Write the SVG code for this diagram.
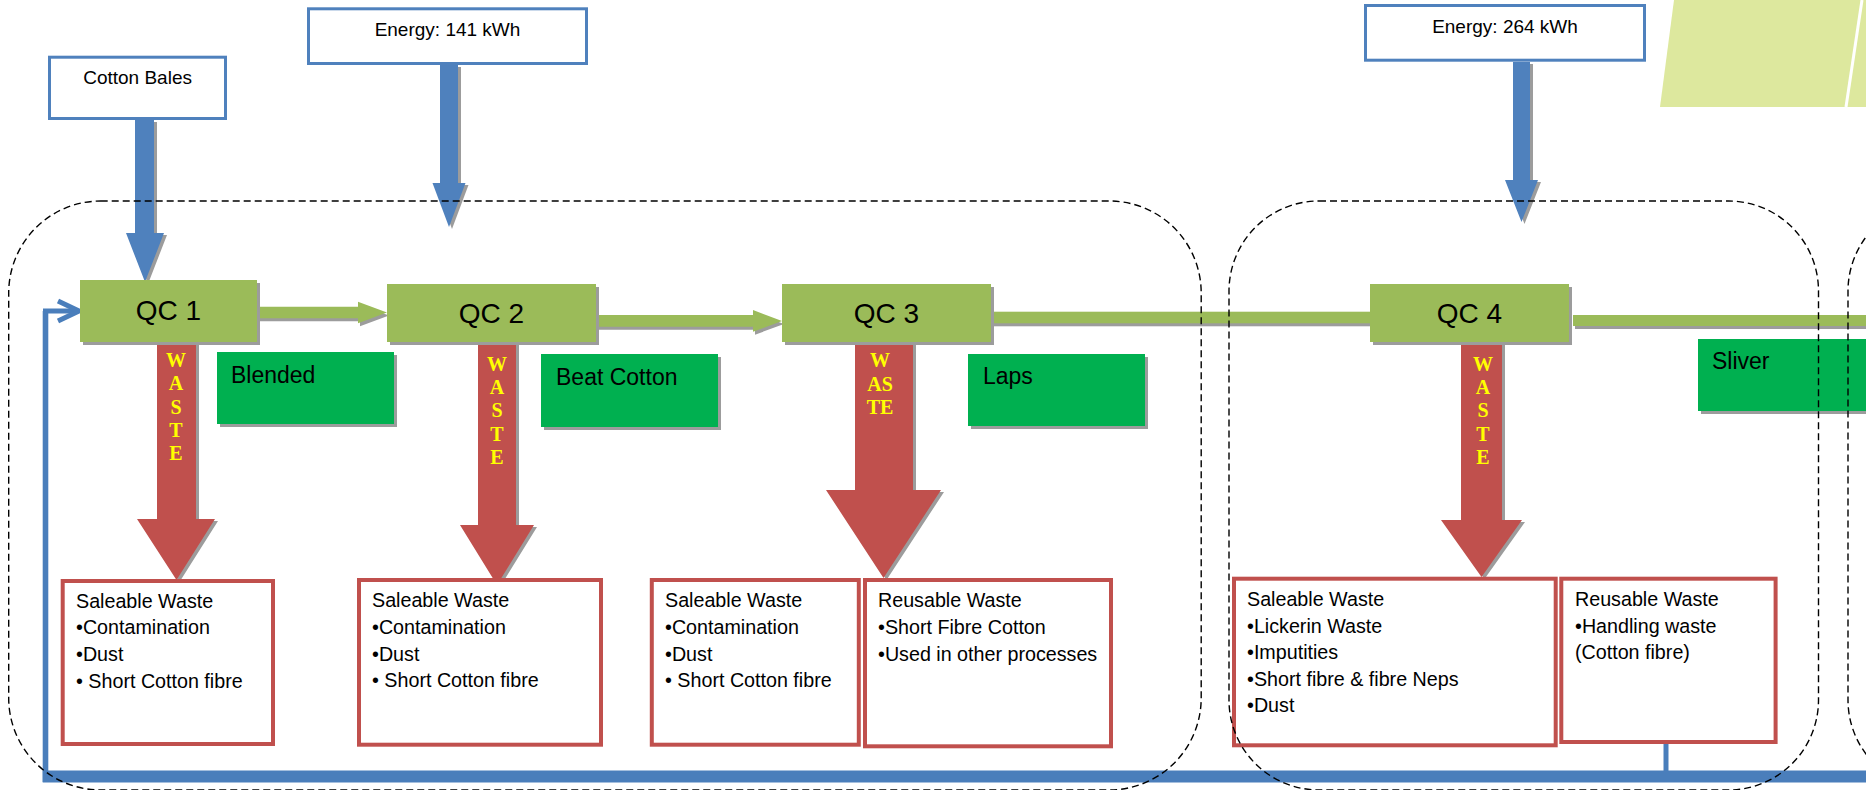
<svg xmlns="http://www.w3.org/2000/svg" width="1866" height="790" viewBox="0 0 1866 790">
<style>
.t{font-family:"Liberation Sans",Arial,sans-serif;fill:#000}
.qc{fill:#9BBB59}
.sh{fill:#9C9C9C}
.prod{fill:#00B050}
.wbox{fill:#fff;stroke:#C0504D;stroke-width:4}
.ibox{fill:#fff;stroke:#4F81BD;stroke-width:3}
.red{fill:#C0504D}
.blue{fill:#4F81BD}
.w{font-family:"Liberation Serif","Times New Roman",serif;font-weight:bold;font-size:20px;fill:#FFFF00;text-anchor:middle}
.dash{fill:none;stroke:#000;stroke-width:1.4;stroke-dasharray:7 4}
.loop{fill:none;stroke:#4A7EBB}
.li{font-size:19.7px}
</style>
<rect width="1866" height="790" fill="#fff"/>
<g id="decor">
<polygon points="1674,0 1866,0 1866,107 1660,107" fill="#DDE89E"/>
<line x1="1862" y1="0" x2="1846" y2="107" stroke="#fff" stroke-width="3"/>
</g>
<g id="connectors">
<polygon class="sh" transform="translate(3,2)" points="135,120 154,120 154,233 164,233 145,282 126,233 135,233"/>
<polygon class="blue" points="135,120 154,120 154,233 164,233 145,282 126,233 135,233"/>
<polygon class="sh" transform="translate(3,2)" points="440,65 458,65 458,183 465.5,183 449,227 432.5,183 440,183"/>
<polygon class="blue" points="440,65 458,65 458,183 465.5,183 449,227 432.5,183 440,183"/>
<polygon class="sh" transform="translate(3,2)" points="1513,62 1530,62 1530,180 1538,180 1521.5,222 1505,180 1513,180"/>
<polygon class="blue" points="1513,62 1530,62 1530,180 1538,180 1521.5,222 1505,180 1513,180"/>
<polygon class="sh" transform="translate(2,3)" points="257,306.7 358,306.7 358,301.7 387,312.5 358,323.3 358,318.3 257,318.3"/>
<polygon class="qc" points="257,306.7 358,306.7 358,301.7 387,312.5 358,323.3 358,318.3 257,318.3"/>
<polygon class="sh" transform="translate(2,3)" points="596,315 753,315 753,310 782,321 753,331.7 753,326.7 596,326.7"/>
<polygon class="qc" points="596,315 753,315 753,310 782,321 753,331.7 753,326.7 596,326.7"/>
<rect class="sh" x="993" y="314.7" width="377" height="11.6"/>
<rect class="qc" x="991" y="311.7" width="379" height="11.6"/>
<rect class="sh" x="1575" y="318" width="291" height="11"/>
<rect class="qc" x="1573" y="315" width="293" height="11"/>
<polygon class="sh" transform="translate(3,2)" points="157,342 196,342 196,519 215,519 176.5,580 137,519 157,519"/>
<polygon class="red" points="157,342 196,342 196,519 215,519 176.5,580 137,519 157,519"/>
<polygon class="sh" transform="translate(3,2)" points="478,342 516,342 516,525 534,525 497,585 460,525 478,525"/>
<polygon class="red" points="478,342 516,342 516,525 534,525 497,585 460,525 478,525"/>
<polygon class="sh" transform="translate(3,2)" points="855,342 913,342 913,490 941,490 883.5,578 826,490 855,490"/>
<polygon class="red" points="855,342 913,342 913,490 941,490 883.5,578 826,490 855,490"/>
<polygon class="sh" transform="translate(3,2)" points="1461,342 1502,342 1502,520 1522,520 1481.5,577 1441,520 1461,520"/>
<polygon class="red" points="1461,342 1502,342 1502,520 1522,520 1481.5,577 1441,520 1461,520"/>
<text class="w"><tspan x="176" y="367">W</tspan><tspan x="176" y="390.3">A</tspan><tspan x="176" y="413.7">S</tspan><tspan x="176" y="437">T</tspan><tspan x="176" y="460.3">E</tspan></text>
<text class="w"><tspan x="497" y="370.7">W</tspan><tspan x="497" y="394">A</tspan><tspan x="497" y="417.3">S</tspan><tspan x="497" y="440.7">T</tspan><tspan x="497" y="464">E</tspan></text>
<text class="w"><tspan x="880" y="366.7">W</tspan><tspan x="880" y="390.7">AS</tspan><tspan x="880" y="414">TE</tspan></text>
<text class="w"><tspan x="1483" y="370.7">W</tspan><tspan x="1483" y="394">A</tspan><tspan x="1483" y="417.3">S</tspan><tspan x="1483" y="440.7">T</tspan><tspan x="1483" y="464">E</tspan></text>
<line class="loop" x1="1666" y1="744" x2="1666" y2="772" stroke-width="5"/>
<rect x="42.7" y="770.5" width="1823.3" height="12" fill="#4A7EBB"/>
<line class="loop" x1="45.5" y1="782" x2="45.5" y2="311" stroke-width="5.6"/>
<line class="loop" x1="43" y1="311" x2="78" y2="311" stroke-width="5"/>
<polyline class="loop" points="58,301 79,311 58,321" stroke-width="5"/>
</g>
<g id="cotton-bales"><rect class="ibox" x="49.5" y="57.2" width="176" height="61.3"/><text class="t" x="137.6" y="84" font-size="19" text-anchor="middle">Cotton Bales</text></g>
<g id="energy-141"><rect class="ibox" x="308.5" y="8.8" width="278" height="54.7"/><text class="t" x="447.5" y="36" font-size="19" text-anchor="middle">Energy: 141 kWh</text></g>
<g id="energy-264"><rect class="ibox" x="1365.5" y="5.5" width="279" height="54.7"/><text class="t" x="1505" y="33" font-size="19" text-anchor="middle">Energy: 264 kWh</text></g>
<g id="qc1"><rect class="sh" x="83" y="283" width="177" height="62"/><rect class="qc" x="80" y="280" width="177" height="62"/><text class="t" x="168.5" y="320" font-size="28" text-anchor="middle">QC 1</text></g>
<g id="qc2"><rect class="sh" x="390" y="287" width="209" height="58"/><rect class="qc" x="387" y="284" width="209" height="58"/><text class="t" x="491.5" y="323" font-size="28" text-anchor="middle">QC 2</text></g>
<g id="qc3"><rect class="sh" x="785" y="287" width="209" height="58"/><rect class="qc" x="782" y="284" width="209" height="58"/><text class="t" x="886.5" y="323" font-size="28" text-anchor="middle">QC 3</text></g>
<g id="qc4"><rect class="sh" x="1373" y="287" width="199" height="58"/><rect class="qc" x="1370" y="284" width="199" height="58"/><text class="t" x="1469.5" y="323" font-size="28" text-anchor="middle">QC 4</text></g>
<g id="blended"><rect class="sh" x="220" y="355" width="177" height="72"/><rect class="prod" x="217" y="352" width="177" height="72"/><text class="t" x="231" y="383" font-size="23">Blended</text></g>
<g id="beat-cotton"><rect class="sh" x="544" y="357" width="177" height="73"/><rect class="prod" x="541" y="354" width="177" height="73"/><text class="t" x="556" y="385" font-size="23">Beat Cotton</text></g>
<g id="laps"><rect class="sh" x="971" y="357" width="177" height="72"/><rect class="prod" x="968" y="354" width="177" height="72"/><text class="t" x="983" y="384" font-size="23">Laps</text></g>
<g id="sliver"><rect class="sh" x="1701" y="342" width="200" height="72"/><rect class="prod" x="1698" y="339" width="200" height="72"/><text class="t" x="1712" y="369" font-size="23">Sliver</text></g>
<g id="waste-1"><rect class="wbox" x="62.7" y="581" width="210.3" height="163"/><text class="t li"><tspan x="76" y="607.7">Saleable Waste</tspan><tspan x="76" dy="26.6">•Contamination</tspan><tspan x="76" dy="26.6">•Dust</tspan><tspan x="76" dy="26.6">• Short Cotton fibre</tspan></text></g>
<g id="waste-2"><rect class="wbox" x="359" y="580" width="242" height="164.7"/><text class="t li"><tspan x="372" y="607.3">Saleable Waste</tspan><tspan x="372" dy="26.6">•Contamination</tspan><tspan x="372" dy="26.6">•Dust</tspan><tspan x="372" dy="26.6">• Short Cotton fibre</tspan></text></g>
<g id="waste-3a"><rect class="wbox" x="651.8" y="580" width="207" height="164.7"/><text class="t li"><tspan x="665" y="607.3">Saleable Waste</tspan><tspan x="665" dy="26.6">•Contamination</tspan><tspan x="665" dy="26.6">•Dust</tspan><tspan x="665" dy="26.6">• Short Cotton fibre</tspan></text></g>
<g id="waste-3b"><rect class="wbox" x="865" y="580" width="246" height="166.3"/><text class="t li"><tspan x="878" y="607.3">Reusable Waste</tspan><tspan x="878" dy="26.6">•Short Fibre Cotton</tspan><tspan x="878" dy="26.6">•Used in other processes</tspan></text></g>
<g id="waste-4a"><rect class="wbox" x="1234" y="578.7" width="321.7" height="166.6"/><text class="t li"><tspan x="1247" y="606">Saleable Waste</tspan><tspan x="1247" dy="26.6">•Lickerin Waste</tspan><tspan x="1247" dy="26.6">•Imputities</tspan><tspan x="1247" dy="26.6">•Short fibre &amp; fibre Neps</tspan><tspan x="1247" dy="26.6">•Dust</tspan></text></g>
<g id="waste-4b"><rect class="wbox" x="1561.3" y="578.7" width="214.3" height="163.3"/><text class="t li"><tspan x="1575" y="606">Reusable Waste</tspan><tspan x="1575" dy="26.6">•Handling waste</tspan><tspan x="1575" dy="26.6">(Cotton fibre)</tspan></text></g>
<g id="stages">
<rect class="dash" x="8.7" y="201" width="1192.5" height="589" rx="92" ry="92"/>
<rect class="dash" x="1229" y="201" width="589.5" height="589" rx="90" ry="90"/>
<rect class="dash" x="1848" y="201" width="200" height="589" rx="90" ry="90"/>
</g>
</svg>
